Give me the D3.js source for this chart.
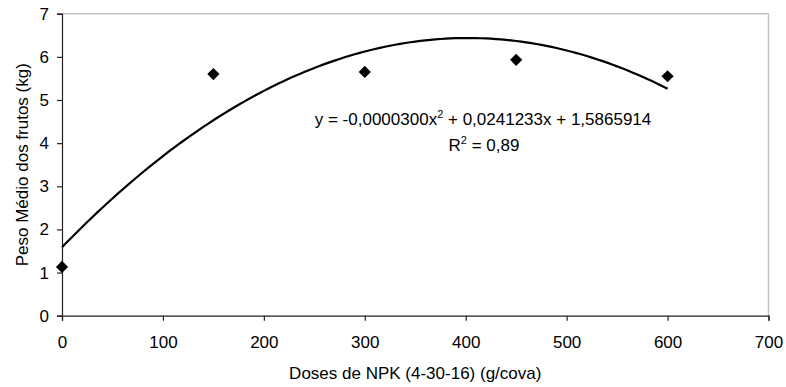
<!DOCTYPE html>
<html>
<head>
<meta charset="utf-8">
<script src="https://cdn.jsdelivr.net/npm/d3@7"></script>
<style>
  body { margin: 0; background: #fff; }
  text { font-family: "Liberation Sans", Arial, sans-serif; fill: #000; }
</style>
</head>
<body>
<div class="chart"></div>
<script>
const width = 786
const height = 387

// dados observados
const doses = [0, 150, 300, 450, 600]
const peso = [1.13, 5.6, 5.65, 5.93, 5.55]

// linha de tendência (polinomial de 2a ordem mostrada no gráfico)
const coef = [-0.0000300, 0.0241233, 1.5865914]
const eqLabel = "y = -0,0000300x"
const eqRest = " + 0,0241233x + 1,5865914"
const r2Label = "0,89"

const xTicks = [0, 100, 200, 300, 400, 500, 600, 700]
const yTicks = [0, 1, 2, 3, 4, 5, 6, 7]

const mLeft = 62, mRight = 768.5, mTop = 13.7, mBottom = 315.7
const fs = '17px'

const svg = d3.select('.chart').append('svg')
    .attr('width', width)
    .attr('height', height)

const x = d3.scaleLinear().domain([0, 700]).range([mLeft, mRight])
const y = d3.scaleLinear().domain([0, 7]).range([mBottom, mTop])

// borda cinza (topo e direita)
svg.append('path')
    .attr('d', `M${mLeft},${mTop}H${mRight}V${mBottom}`)
    .attr('fill', 'none')
    .attr('stroke', '#c4c4c4')
    .attr('stroke-width', 1.5)

const xAxis = svg.append('g')
    .attr('transform', `translate(0,${mBottom})`)
    .call(d3.axisBottom(x).tickValues(xTicks).tickSize(5).tickPadding(15).tickFormat(d3.format('d')))
const yAxis = svg.append('g')
    .attr('transform', `translate(${mLeft},0)`)
    .call(d3.axisLeft(y).tickValues(yTicks).tickSize(5).tickPadding(8).tickFormat(d3.format('d')))

for (const ax of [xAxis, yAxis]) {
    ax.select('.domain').attr('stroke', '#222').attr('stroke-width', 1.2)
    ax.selectAll('.tick line').attr('stroke', '#222').attr('stroke-width', 1.2)
    ax.selectAll('text').style('font-size', fs).style('font-family', '"Liberation Sans", Arial, sans-serif')
}

// curva
const curvePts = d3.range(0, 601, 5).map(v => [v, coef[0]*v*v + coef[1]*v + coef[2]])
svg.append('path')
    .datum(curvePts)
    .attr('fill', 'none')
    .attr('stroke', '#000')
    .attr('stroke-width', 2.2)
    .attr('d', d3.line().x(d => x(d[0])).y(d => y(d[1])))

// pontos
svg.append('g')
    .selectAll('path')
    .data(doses)
    .join('path')
    .attr('d', d3.symbol().type(d3.symbolDiamond2).size(95))
    .attr('transform', (d, i) => `translate(${x(d)},${y(peso[i])})`)
    .attr('fill', '#000')

// equação
const eq = svg.append('text')
    .attr('x', 483).attr('y', 125)
    .attr('text-anchor', 'middle')
    .style('font-size', fs)
eq.append('tspan').text(eqLabel)
eq.append('tspan').attr('dy', -7).style('font-size', '11px').text('2')
eq.append('tspan').attr('dy', 7).text(eqRest)

const r2 = svg.append('text')
    .attr('x', 484).attr('y', 151)
    .attr('text-anchor', 'middle')
    .style('font-size', fs)
r2.append('tspan').text('R')
r2.append('tspan').attr('dy', -7).style('font-size', '11px').text('2')
r2.append('tspan').attr('dy', 7).text(' = ' + r2Label)

// títulos dos eixos
svg.append('text')
    .attr('x', (mLeft + mRight) / 2).attr('y', 379)
    .attr('text-anchor', 'middle')
    .style('font-size', fs)
    .text('Doses de NPK (4-30-16) (g/cova)')

svg.append('text')
    .attr('transform', `translate(22,${(mTop + mBottom) / 2}) rotate(-90)`)
    .attr('text-anchor', 'middle')
    .attr('dy', '0.35em')
    .style('font-size', fs)
    .text('Peso Médio dos frutos (kg)')
</script>
</body>
</html>
